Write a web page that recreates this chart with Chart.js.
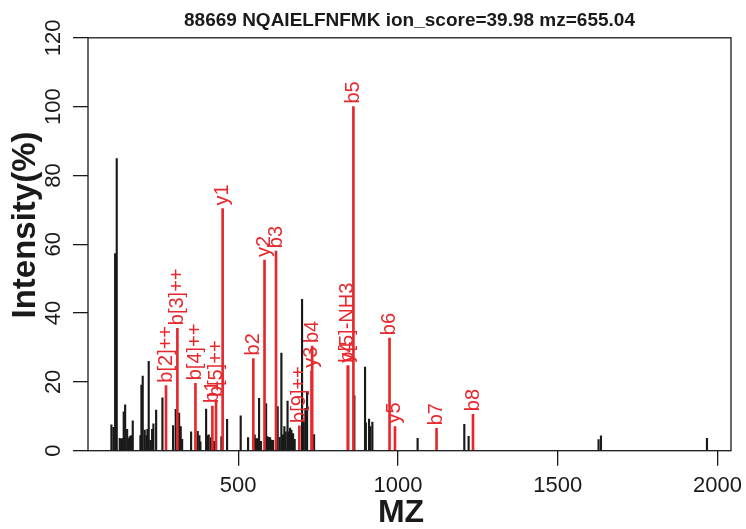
<!DOCTYPE html>
<html><head><meta charset="utf-8">
<script src="https://cdn.jsdelivr.net/npm/chart.js@4.4.1/dist/chart.umd.min.js"></script>
<style>html,body{margin:0;padding:0;background:#fff}#wrap{width:746px;height:529px}</style>
</head><body><div id="wrap"><canvas id="c" width="746" height="529"></canvas></div>
<script>
const titleText = "88669 NQAIELFNFMK ion_score=39.98 mz=655.04";
const xTitle = "MZ";
const yTitle = "Intensity(%)";
const xTicks = [500, 1000, 1500, 2000];
const yTicks = [0, 20, 40, 60, 80, 100, 120];

// unmatched peaks (black)
const otherMz = [103.3,109.6,114.9,119.9,129.3,133.7,137.8,141.8,146.2,152.5,156.5,160.6,165.0,170.0,194.0,197.2,201.2,207.5,212.8,215.9,220.0,225.3,230.6,234.7,243.2,262.9,296.3,304.5,315.1,320.1,324.5,352.6,373.3,378.6,381.7,399.6,403.6,407.7,415.2,424.6,447.4,465.2,507.8,530.9,551.6,556.0,560.0,565.3,571.0,587.2,591.3,595.4,599.8,603.8,609.1,623.5,629.8,635.1,640.4,644.5,648.5,654.4,658.4,662.3,666.4,671.7,676.7,699.8,704.8,710.2,715.5,737.4,863.4,896.9,899.4,909.4,913.5,919.8,1061.4,1207.5,1221.0,1627.6,1635.1,1966.8];
const otherInt = [7.5,6.8,57.3,84.9,3.6,3.3,3.6,11.3,13.3,6.2,3.6,4.1,4.4,8.7,4.4,19.1,21.7,6.0,4.4,6.2,26.0,3.0,6.2,7.8,11.8,15.4,7.3,12.0,10.9,7.0,3.3,5.5,5.6,4.4,2.6,12.1,4.4,4.6,3.8,2.7,4.1,9.1,10.1,3.8,4.6,3.5,3.5,15.2,2.7,13.7,4.1,3.9,3.8,3.1,3.0,12.8,3.9,28.4,4.6,7.0,5.5,14.4,5.5,6.6,6.0,5.0,3.3,44.0,8.5,12.3,17.1,4.7,16.0,24.3,8.1,9.2,7.0,8.3,3.6,7.7,4.2,3.2,4.3,3.6];

// matched ions (red)
const ionLabels = ["b[2]++","b[3]++","b[4]++","b1","b[5]++","y1","b2","y2","b3","b[9]++","y3","b4","y4","b[5]-NH3","b5","b6","y5","b7","b8"];
const ionMz = [274.16,309.68,366.22,419.26,430.74,451.32,547.31,582.36,618.35,691.37,729.43,731.44,843.47,843.45,860.48,973.56,990.54,1120.63,1234.67];
const ionInt = [18.9,35.6,19.6,13.0,14.7,70.4,26.8,55.4,58.0,7.2,23.2,30.4,24.7,24.7,100,32.7,7.0,6.5,10.6];

const FONT = "'Liberation Sans', Arial, Helvetica, sans-serif";
const RED = 'rgb(230,40,45)';
const INK = '#1a1a1a';

const redData = ionMz.map((m, i) => ({x: m, y: ionInt[i]}));
const blackData = otherMz.map((m, i) => ({x: m, y: otherInt[i]}));

const decor = {
  id: 'decor',
  afterDatasetsDraw(chart) {
    const ctx = chart.ctx;
    const a = chart.chartArea;
    ctx.save();
    // box
    ctx.strokeStyle = INK;
    ctx.lineWidth = 1.3;
    ctx.strokeRect(a.left, a.top, a.right - a.left, a.bottom - a.top);
    // ion labels
    const meta = chart.getDatasetMeta(0);
    ctx.fillStyle = RED;
    ctx.font = '20px ' + FONT;
    ctx.textAlign = 'left';
    ctx.textBaseline = 'middle';
    meta.data.forEach((el, i) => {
      ctx.save();
      ctx.translate(el.x, el.y - 3);
      ctx.rotate(-Math.PI / 2);
      ctx.fillText(ionLabels[i], 0, 0);
      ctx.restore();
    });
    // tick labels
    ctx.fillStyle = INK;
    ctx.font = '22px ' + FONT;
    ctx.textAlign = 'center';
    ctx.textBaseline = 'middle';
    const xs = chart.scales.x, ys = chart.scales.y;
    xs.ticks.forEach(t => {
      ctx.fillText(String(t.value), xs.getPixelForValue(t.value), 486);
    });
    ys.ticks.forEach(t => {
      ctx.save();
      ctx.translate(54, ys.getPixelForValue(t.value));
      ctx.rotate(-Math.PI / 2);
      ctx.fillText(String(t.value), 0, 0);
      ctx.restore();
    });
    // axis titles
    ctx.font = 'bold 32px ' + FONT;
    ctx.fillText(xTitle, 401, 513);
    ctx.save();
    ctx.translate(26, 225);
    ctx.rotate(-Math.PI / 2);
    ctx.font = 'bold 33px ' + FONT;
    ctx.fillText(yTitle, 0, 0);
    ctx.restore();
    ctx.restore();
  }
};

new Chart(document.getElementById('c'), {
  type: 'bar',
  data: {
    datasets: [
      {label: 'matched', data: redData, backgroundColor: RED, barThickness: 2, grouped: false, order: 0},
      {label: 'other', data: blackData, backgroundColor: INK, barThickness: 1.5, grouped: false, order: 1}
    ]
  },
  options: {
    responsive: false,
    animation: false,
    devicePixelRatio: 1,
    layout: {padding: {left: 0, right: 15, top: 0, bottom: 0}},
    plugins: {
      legend: {display: false},
      tooltip: {enabled: false},
      title: {
        display: true, text: titleText, color: INK, fullSize: false,
        font: {family: FONT, size: 19, weight: 'bold', lineHeight: 1.2},
        padding: {top: 9, bottom: 6}
      }
    },
    scales: {
      x: {
        type: 'linear', min: 30, max: 2042, offset: false,
        afterBuildTicks: s => { s.ticks = xTicks.map(v => ({value: v})); },
        afterFit: s => { s.height = 78.3; },
        ticks: {display: false},
        grid: {display: true, drawOnChartArea: false, drawTicks: true, tickLength: 15, color: INK, lineWidth: 1.3, offset: false},
        border: {display: false}
      },
      y: {
        type: 'linear', min: 0, max: 120,
        afterBuildTicks: s => { s.ticks = yTicks.map(v => ({value: v})); },
        afterFit: s => { s.width = 88; },
        ticks: {display: false},
        grid: {display: true, drawOnChartArea: false, drawTicks: true, tickLength: 15, color: INK, lineWidth: 1.3},
        border: {display: false}
      }
    }
  },
  plugins: [decor]
});
</script>
</body></html>
